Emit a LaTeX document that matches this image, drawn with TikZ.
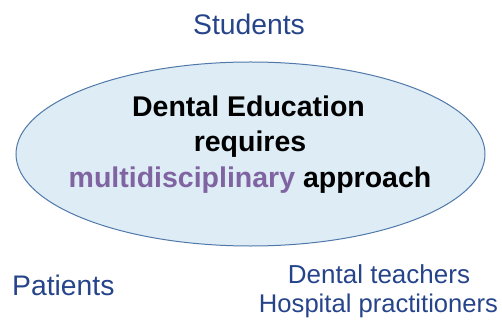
\documentclass[tikz,border=0pt]{standalone}
\usepackage{fontspec}
\setmainfont{Liberation Sans}
\usetikzlibrary{shapes.geometric}
\definecolor{txtblue}{RGB}{38,68,138}
\definecolor{mypurple}{RGB}{128,100,162}
\definecolor{ellfill}{RGB}{221,236,245}
\definecolor{elldraw}{RGB}{80,120,170}
\begin{document}
\begin{tikzpicture}[x=1pt,y=-1pt,
  outer/.style={text=txtblue, font=\fontsize{28.3}{32}\selectfont, inner sep=0pt, anchor=base},
  inner/.style={text=black, font=\fontsize{28.5}{34}\bfseries\selectfont, inner sep=0pt, anchor=base}]
\useasboundingbox (0,0) rectangle (502,320);
\node[ellipse, draw=elldraw, fill=ellfill, line width=1pt, minimum width=469pt, minimum height=184pt, inner sep=0pt] (ell) at (250.5,154) {};
\node[inner] (l1) at (248.5,117) {Dental Education};
\node[inner] (l2) at (250,152) {requires};
\node[inner] (l3) at (250,187) {\textcolor{mypurple}{multidisciplinary} approach};
\node[outer] (stu) at (249,35) {Students};
\node[outer, anchor=base west] (pat) at (12,295) {Patients};
\node[outer, font=\fontsize{26}{30}\selectfont] (dt) at (379,283) {Dental teachers};
\node[outer, font=\fontsize{25.6}{30}\selectfont] (hp) at (378.5,312) {Hospital practitioners};
\end{tikzpicture}
\end{document}
